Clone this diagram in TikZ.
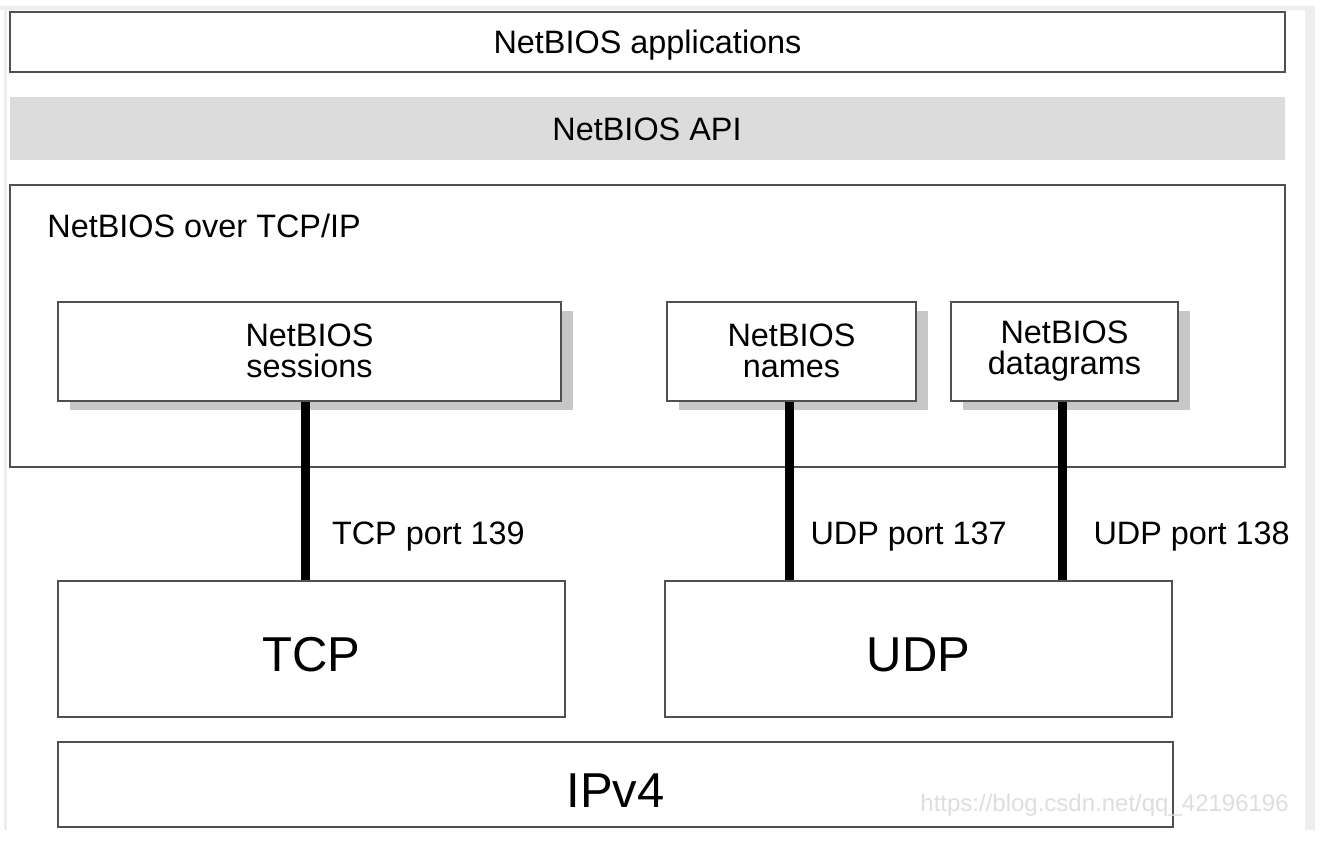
\documentclass[tikz,border=0pt]{standalone}
\usepackage{fontspec}
\setmainfont{Liberation Sans}
\usetikzlibrary{positioning}
\usetikzlibrary{shadows}
\definecolor{boxline}{HTML}{505050}
\definecolor{apigray}{HTML}{DCDCDC}
\definecolor{framegray}{HTML}{EEEEEE}

\tikzset{
  layer/.style={draw=boxline, line width=1pt, fill=white, inner sep=0pt,
    minimum width=637.5pt, font=\fontsize{16.2}{15}\selectfont,
    text height=11.6pt, text depth=0pt},
  service/.style={draw=boxline, line width=1pt, fill=white, inner sep=0pt,
    minimum height=49.5pt, align=center, font=\fontsize{16.2}{15.5}\selectfont,
    drop shadow={shadow xshift=6pt, shadow yshift=-4.5pt, fill=black!22, opacity=1}},
  proto/.style={draw=boxline, line width=1pt, fill=white, inner sep=0pt,
    font=\fontsize{24.5}{28}\selectfont, text height=22.5pt, text depth=0pt},
  link/.style={line width=4.5pt, black},
  port/.style={inner sep=0pt, font=\fontsize{16.2}{15}\selectfont, pos=.757}
}

\begin{document}
\begin{tikzpicture}[x=0.5pt,y=-0.5pt]
\useasboundingbox (0,0) rectangle (1333,862);
\fill[white] (0,0) rectangle (1333,862);
% screenshot frame
\fill[framegray] (0,6) rectangle (1315,10);
\fill[framegray] (1305,10) rectangle (1315,830);
\fill[framegray] (4,10) rectangle (7,830);

% upper layers
\node[layer, minimum height=30pt] (app) at (647.5,42) {NetBIOS applications};
\node[layer, draw=none, fill=apigray, minimum height=31.5pt] (api) at (647,128.5) {NetBIOS API};
\node[layer, minimum height=141pt] (nbt) at (647.5,326) {};
\node[inner sep=0pt, anchor=base west, font=\fontsize{16.2}{15}\selectfont]
  (nbtlbl) at (47,237) {NetBIOS over TCP/IP};

% NetBIOS services
\node[service, minimum width=251.5pt] (sess) at (309.5,351) {NetBIOS\\sessions};
\node[service, minimum width=124.5pt] (names) at (791.5,351) {NetBIOS\\names};
\node[service, minimum width=113.5pt] (dgram) at (1064.5,351) {NetBIOS\\datagrams};

% transport and network
\node[proto, minimum width=253.5pt, minimum height=68pt] (tcp) at (311.5,649) {TCP};
\node[proto, minimum width=253.5pt, minimum height=68pt] (udp) at (918.5,649) {UDP};
\node[proto, minimum width=557.5pt, minimum height=42.5pt] (ipv4) at (615.5,784.5) {IPv4};

% ports
\coordinate (k139) at (305.5,0);
\coordinate (k137) at (789,0);
\coordinate (k138) at (1062,0);
\draw[link] (sess.south -| k139) -- node[port, right=11pt] {TCP port 139} (tcp.north -| k139);
\draw[link] (names.south -| k137) -- node[port, right=8.5pt] {UDP port 137} (udp.north -| k137);
\draw[link] (dgram.south -| k138) -- node[port, right=13.5pt] {UDP port 138} (udp.north -| k138);

\node[inner sep=0pt, anchor=base west, text=black!13, font=\fontsize{12}{14}\selectfont]
  (wm) at (920,811) {https://blog.csdn.net/qq\_42196196};
\end{tikzpicture}
\end{document}
